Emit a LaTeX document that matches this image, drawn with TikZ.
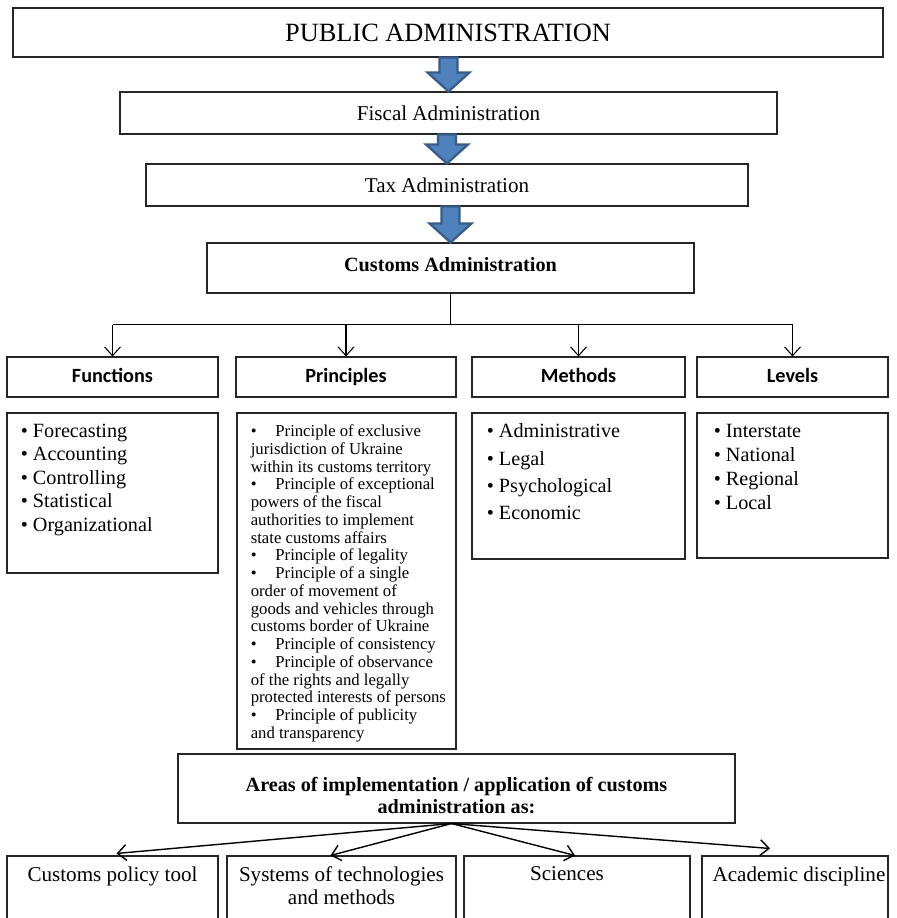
\documentclass[tikz,border=0pt]{standalone}
\usepackage{fontspec}
\setmainfont{Liberation Serif}
\newfontfamily\calibri{Carlito}
\usetikzlibrary{calc,fit,arrows.meta}

\definecolor{arrfill}{RGB}{79,129,189}
\definecolor{arrline}{RGB}{56,93,138}

\tikzset{
  box/.style={draw=black!85, line width=0.6pt, inner sep=0pt},
  headtxt/.style={inner sep=0pt, text height=8.5pt, text depth=2.5pt,
    font=\calibri\bfseries\fontsize{11.5}{14}\selectfont},
  listtxt/.style={anchor=north west, inner sep=0pt, align=left},
  bottxt/.style={anchor=north, inner sep=0pt, align=center, font=\fontsize{12}{13}\selectfont},
  thinarr/.style={-{Straight Barb[length=5pt,width=9pt]}, line width=0.6pt},
  blockarr/.style={fill=arrfill, draw=arrline, line width=1.3pt, line join=miter},
}

% bullet with a wide gap, for the principles list
\newcommand{\pb}{\makebox[14pt][l]{\textbullet}}
% thick blue arrow from node #1 down to node #2
\newcommand{\bigdown}[2]{%
  \draw[blockarr] ($(#2.north |- #1.south)+(-9,0)$) -- ($(#2.north)+(-9,-19)$)
    -- ($(#2.north)+(-21,-19)$) -- (#2.north) -- ($(#2.north)+(21,-19)$)
    -- ($(#2.north)+(9,-19)$) -- ($(#2.north |- #1.south)+(9,0)$) -- cycle;}

\begin{document}
\begin{tikzpicture}[x=0.02cm, y=-0.02cm]
  \useasboundingbox (0,0) rectangle (896,918);
  \clip (0,0) rectangle (896,918);

  % top chain
  \node[box, fit={(13,8) (883,57)}] (pa) {};
  \node[font=\fontsize{15}{17}\selectfont] (patxt) at (pa.center) {PUBLIC ADMINISTRATION};
  \node[box, fit={(120,92) (777,134)}] (fa) {};
  \node[font=\fontsize{12}{14}\selectfont] (fatxt) at (fa.center) {Fiscal Administration};
  \node[box, fit={(146,164) (748,206)}] (ta) {};
  \node[font=\fontsize{12}{14}\selectfont] (tatxt) at (ta.center) {Tax Administration};
  \node[box, fit={(207,243) (694,293)}] (ca) {};
  \node[font=\bfseries\fontsize{11.5}{14}\selectfont] (catxt) at ($(ca.center)+(0,-3)$) {Customs Administration};
  \bigdown{pa}{fa}
  \bigdown{fa}{ta}
  \bigdown{ta}{ca}

  % four headings
  \node[box, fit={(7,357) (218,397)}] (fun) {};
  \node[box, fit={(236,357) (456,397)}] (prin) {};
  \node[box, fit={(472,357) (685,397)}] (meth) {};
  \node[box, fit={(697,357) (888,397)}] (lev) {};
  \node[headtxt] (funtxt) at (fun.center) {Functions};
  \node[headtxt] (printxt) at (prin.center) {Principles};
  \node[headtxt] (methtxt) at (meth.center) {Methods};
  \node[headtxt] (levtxt) at (lev.center) {Levels};

  \draw[line width=0.6pt] (ca.south) -- ($(ca.south)+(0,31)$) coordinate (bus);
  \draw[line width=0.6pt] (fun.north |- bus) -- (lev.north |- bus);
  \foreach \n in {fun,prin,meth,lev}
    \draw[thinarr] (\n.north |- bus) -- (\n.north);

  % lists
  \node[box, fit={(7,413) (218,573)}] (funcbox) {};
  \node[listtxt, font=\fontsize{11.5}{13.4}\selectfont] (funclist) at ($(funcbox.north west)+(14,11)$)
    {\textbullet\ Forecasting\\ \textbullet\ Accounting\\ \textbullet\ Controlling\\
     \textbullet\ Statistical\\ \textbullet\ Organizational};

  \node[box, fit={(237,413) (456,749)}] (prinbox) {};
  \node[listtxt, font=\fontsize{9.5}{10.1}\selectfont] (prinlist) at ($(prinbox.north west)+(14,12)$)
    {\pb Principle of exclusive\\ jurisdiction of Ukraine\\ within its customs territory\\
     \pb Principle of exceptional\\ powers of the fiscal\\ authorities to implement\\ state customs affairs\\
     \pb Principle of legality\\
     \pb Principle of a single\\ order of movement of\\ goods and vehicles through\\ customs border of Ukraine\\
     \pb Principle of consistency\\
     \pb Principle of observance\\ of the rights and legally\\ protected interests of persons\\
     \pb Principle of publicity\\ and transparency};

  \node[box, fit={(472,413) (685,559)}] (methbox) {};
  \node[listtxt, font=\fontsize{11.5}{15.5}\selectfont] (methlist) at ($(methbox.north west)+(15,11)$)
    {\textbullet\ Administrative\\ \textbullet\ Legal\\ \textbullet\ Psychological\\ \textbullet\ Economic};

  \node[box, fit={(697,413) (888,558)}] (levbox) {};
  \node[listtxt, font=\fontsize{11.5}{13.7}\selectfont] (levlist) at ($(levbox.north west)+(17,11)$)
    {\textbullet\ Interstate\\ \textbullet\ National\\ \textbullet\ Regional\\ \textbullet\ Local};

  % areas of application
  \node[box, fit={(178,754) (735,823)}] (areas) {};
  \node[align=center, inner sep=0pt, font=\bfseries\fontsize{11.5}{12}\selectfont] (areastxt)
    at ($(areas.center)+(0,7)$) {Areas of implementation / application of customs\\ administration as:};

  \node[box, fit={(7,856) (218,940)}] (pol) {};
  \node[box, fit={(227,856) (456,940)}] (sys) {};
  \node[box, fit={(464,856) (690,940)}] (sci) {};
  \node[box, fit={(702,856) (888,940)}] (aca) {};
  \node[bottxt] (poltxt) at ($(pol.north)+(0,11)$) {Customs policy tool};
  \node[bottxt] (systxt) at ($(sys.north)+(0,11)$) {Systems of technologies\\ and methods};
  \node[bottxt] (scitxt) at ($(sci.north)+(-10,11)$) {Sciences};
  \node[bottxt] (acatxt) at ($(aca.north)+(4,11)$) {Academic discipline};

  \draw[thinarr, line width=0.8pt] ($(areas.south)+(-5,0)$) -- ($(pol.north)+(4,-2)$);
  \draw[thinarr, line width=0.8pt] ($(areas.south)+(-5,0)$) -- ($(sys.north)+(-11,0)$);
  \draw[thinarr, line width=0.8pt] ($(areas.south)+(-5,0)$) -- ($(sci.north)+(-2,0)$);
  \draw[thinarr, line width=0.8pt] ($(areas.south)+(-5,0)$) -- ($(aca.north)+(-25,-7)$);
\end{tikzpicture}
\end{document}
